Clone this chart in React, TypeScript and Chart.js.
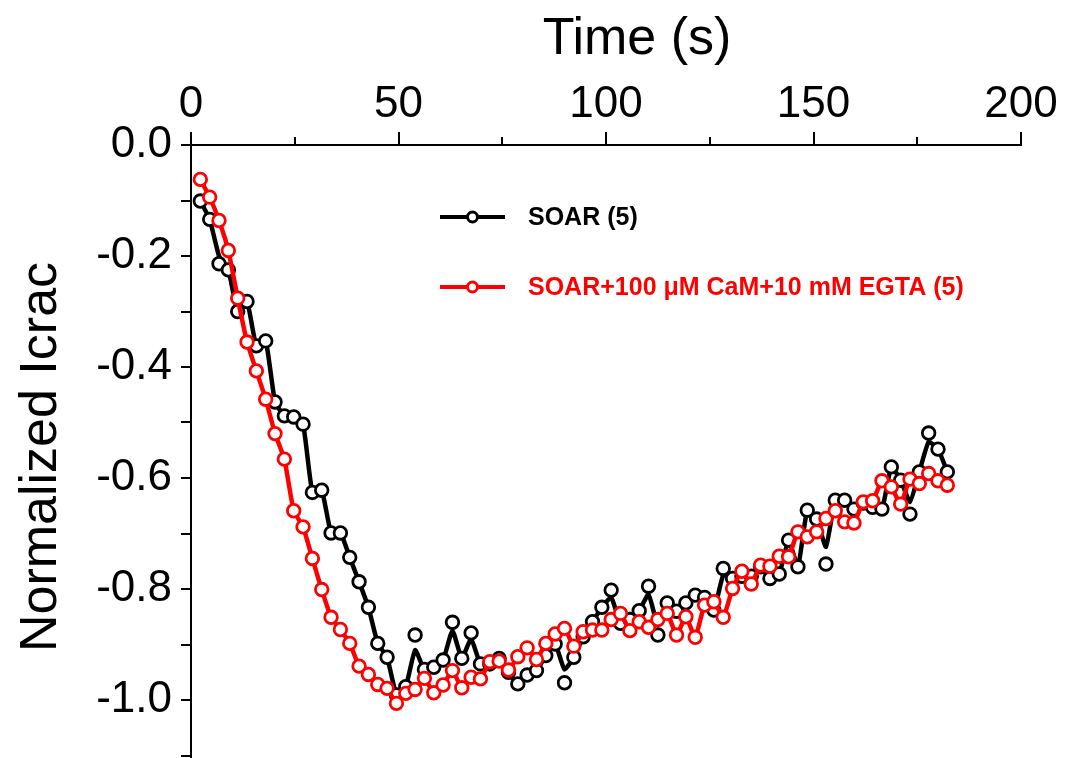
import React, { useEffect, useRef } from "react";
import { Chart, registerables } from "chart.js";

Chart.register(...registerables);

// Time (s) of each sample
const times = [
  2.25, 4.5, 6.75, 9, 11.25, 13.5, 15.75, 18, 20.25, 22.5,
  24.75, 27, 29.25, 31.5, 33.75, 36, 38.25, 40.5, 42.75, 45,
  47.25, 49.5, 51.75, 54, 56.25, 58.5, 60.75, 63, 65.25, 67.5,
  69.75, 72, 74.25, 76.5, 78.75, 81, 83.25, 85.5, 87.75, 90,
  92.25, 94.5, 96.75, 99, 101.25, 103.5, 105.75, 108, 110.25, 112.5,
  114.75, 117, 119.25, 121.5, 123.75, 126, 128.25, 130.5, 132.75, 135,
  137.25, 139.5, 141.75, 144, 146.25, 148.5, 150.75, 153, 155.25, 157.5,
  159.75, 162, 164.25, 166.5, 168.75, 171, 173.25, 175.5, 177.75, 180,
  182.25,
];

// SOAR (5): measured points
const soarPoints = [
  -0.101, -0.134, -0.214, -0.225, -0.300, -0.282, -0.362, -0.353, -0.463, -0.488,
  -0.490, -0.503, -0.626, -0.622, -0.699, -0.699, -0.743, -0.787, -0.833, -0.898,
  -0.923, -0.991, -0.976, -0.883, -0.945, -0.941, -0.928, -0.860, -0.925, -0.879,
  -0.935, -0.935, -0.925, -0.950, -0.971, -0.955, -0.947, -0.920, -0.899, -0.969,
  -0.923, -0.886, -0.859, -0.833, -0.802, -0.862, -0.855, -0.839, -0.795, -0.883,
  -0.825, -0.840, -0.825, -0.811, -0.815, -0.838, -0.763, -0.781, -0.777, -0.777,
  -0.760, -0.781, -0.773, -0.712, -0.760, -0.658, -0.674, -0.755, -0.640, -0.640,
  -0.656, -0.645, -0.653, -0.656, -0.580, -0.604, -0.665, -0.589, -0.519, -0.548,
  -0.589,
];

// SOAR (5): smoothed trace drawn through the points
const soarLine = [
  -0.101, -0.134, -0.200, -0.225, -0.300, -0.282, -0.362, -0.353, -0.463, -0.488,
  -0.490, -0.503, -0.626, -0.622, -0.699, -0.699, -0.743, -0.787, -0.833, -0.898,
  -0.923, -0.990, -0.976, -0.910, -0.945, -0.941, -0.928, -0.875, -0.925, -0.890,
  -0.935, -0.935, -0.925, -0.950, -0.971, -0.955, -0.947, -0.920, -0.899, -0.945,
  -0.923, -0.886, -0.859, -0.833, -0.815, -0.862, -0.855, -0.839, -0.810, -0.865,
  -0.825, -0.840, -0.825, -0.811, -0.815, -0.838, -0.775, -0.781, -0.777, -0.777,
  -0.760, -0.781, -0.773, -0.712, -0.760, -0.658, -0.674, -0.724, -0.640, -0.640,
  -0.656, -0.645, -0.653, -0.656, -0.580, -0.604, -0.643, -0.589, -0.535, -0.548,
  -0.589,
];

// SOAR+100 uM CaM+10 mM EGTA (5)
const camPoints = [
  -0.062, -0.094, -0.136, -0.190, -0.276, -0.355, -0.407, -0.458, -0.520, -0.566,
  -0.659, -0.688, -0.745, -0.801, -0.851, -0.873, -0.898, -0.939, -0.954, -0.972,
  -0.979, -1.006, -0.988, -0.981, -0.961, -0.987, -0.973, -0.947, -0.978, -0.959,
  -0.962, -0.931, -0.930, -0.946, -0.922, -0.906, -0.927, -0.898, -0.881, -0.871,
  -0.903, -0.877, -0.874, -0.874, -0.855, -0.844, -0.875, -0.859, -0.869, -0.855,
  -0.844, -0.883, -0.850, -0.887, -0.829, -0.823, -0.851, -0.799, -0.768, -0.791,
  -0.757, -0.759, -0.741, -0.742, -0.697, -0.706, -0.697, -0.673, -0.659, -0.679,
  -0.681, -0.643, -0.641, -0.605, -0.616, -0.647, -0.602, -0.610, -0.592, -0.605,
  -0.613,
];

const seriesLabels = ["SOAR (5)", "SOAR+100 \u03BCM CaM+10 mM EGTA (5)"];
const seriesColors = ["#000000", "#ff0000"];
const xTitle = "Time (s)";
const yTitle = "Normalized Icrac";
const xMajorTicks = [0, 50, 100, 150, 200];
const xMinorTicks = [25, 75, 125, 175];
const yTicks = [0, -0.1, -0.2, -0.3, -0.4, -0.5, -0.6, -0.7, -0.8, -0.9, -1.0, -1.1];

const FONT = '"Liberation Sans", Arial, Helvetica, sans-serif';

export default function App() {
  const canvasRef = useRef<HTMLCanvasElement>(null);

  useEffect(() => {
    if (!canvasRef.current) return;
    const toXY = (vals: number[]) => times.map((t, i) => ({ x: t, y: vals[i] }));

    const decor = {
      id: "decor",
      afterLayout(chart: any) {
        const ys = chart.scales.y;
        const b = chart.height - 2.5;
        ys.bottom = b;
        ys.height = b - ys.top;
        ys.configure();
        chart.chartArea.bottom = b;
        chart.chartArea.height = b - chart.chartArea.top;
      },
      afterDraw(chart: any) {
        const ctx = chart.ctx as CanvasRenderingContext2D;
        const { left, right, top } = chart.chartArea;
        const xs = chart.scales.x;
        const ys = chart.scales.y;
        ctx.save();
        ctx.strokeStyle = "#000";
        ctx.lineWidth = 2;
        ctx.beginPath();
        ctx.moveTo(left, top);
        ctx.lineTo(right + 1, top);
        ctx.moveTo(left, top - 1);
        ctx.lineTo(left, chart.height);
        for (const v of xMajorTicks) {
          const px = Math.round(xs.getPixelForValue(v));
          ctx.moveTo(px, top);
          ctx.lineTo(px, top - 13);
        }
        for (const v of xMinorTicks) {
          const px = Math.round(xs.getPixelForValue(v));
          ctx.moveTo(px, top);
          ctx.lineTo(px, top - 8);
        }
        for (const v of yTicks) {
          const py = Math.round(ys.getPixelForValue(v));
          ctx.moveTo(left, py);
          ctx.lineTo(left - 10, py);
        }
        ctx.stroke();

        // titles
        ctx.fillStyle = "#000";
        ctx.font = `52px ${FONT}`;
        ctx.textAlign = "center";
        ctx.textBaseline = "alphabetic";
        ctx.fillText(xTitle, 637, 54);
        ctx.save();
        ctx.translate(56, 457);
        ctx.rotate(-Math.PI / 2);
        ctx.fillText(yTitle, 0, 0);
        ctx.restore();

        // legend
        const legendY = [217, 287];
        seriesLabels.forEach((lab, i) => {
          const y = legendY[i];
          ctx.strokeStyle = seriesColors[i];
          ctx.lineWidth = 4;
          ctx.beginPath();
          ctx.moveTo(440, y);
          ctx.lineTo(505, y);
          ctx.stroke();
          ctx.beginPath();
          ctx.arc(472.5, y, 5, 0, Math.PI * 2);
          ctx.fillStyle = "#fff";
          ctx.fill();
          ctx.lineWidth = 3;
          ctx.stroke();
          ctx.fillStyle = seriesColors[i];
          ctx.font = `bold 25px ${FONT}`;
          ctx.textAlign = "left";
          ctx.textBaseline = "middle";
          ctx.fillText(lab, 528, y + 1);
        });
        ctx.restore();
      },
    };

    const chart = new Chart(canvasRef.current, {
      type: "line",
      data: {
        datasets: [
          {
            label: seriesLabels[1],
            data: toXY(camPoints),
            borderColor: seriesColors[1],
            borderWidth: 4.5,
            pointRadius: 6.3,
            pointBorderWidth: 2.8,
            pointBackgroundColor: "#ffffff",
            pointBorderColor: seriesColors[1],
            tension: 0.15,
            order: 1,
          },
          {
            label: seriesLabels[0] + " points",
            data: toXY(soarPoints),
            showLine: false,
            borderColor: seriesColors[0],
            pointRadius: 6.3,
            pointBorderWidth: 2.8,
            pointBackgroundColor: "#ffffff",
            pointBorderColor: seriesColors[0],
            order: 2,
          },
          {
            label: seriesLabels[0],
            data: toXY(soarLine),
            borderColor: seriesColors[0],
            borderWidth: 4.5,
            pointRadius: 0,
            tension: 0.15,
            order: 3,
          },
        ],
      },
      options: {
        responsive: false,
        animation: false,
        events: [],
        layout: { padding: { left: 0, right: 52, top: 0, bottom: 2 } },
        plugins: { legend: { display: false }, tooltip: { enabled: false } },
        scales: {
          x: {
            type: "linear",
            position: "top",
            min: 0,
            max: 200,
            grid: { display: false, drawTicks: false },
            border: { display: false },
            afterFit: (s: any) => {
              s.height = 145;
              s.paddingLeft = 0;
              s.paddingRight = 0;
            },
            ticks: {
              stepSize: 25,
              autoSkip: false,
              maxRotation: 0,
              padding: 14,
              color: "#000",
              font: { family: FONT, size: 44 },
              callback: (v: any) => (Number(v) % 50 === 0 ? String(v) : ""),
            },
          },
          y: {
            type: "linear",
            min: -1.1,
            max: 0,
            grid: { display: false, drawTicks: false },
            border: { display: false },
            afterFit: (s: any) => {
              s.width = 191;
              s.paddingTop = 0;
              s.paddingBottom = 0;
            },
            ticks: {
              stepSize: 0.1,
              autoSkip: false,
              padding: 19,
              color: "#000",
              font: { family: FONT, size: 44 },
              callback: (v: any) => {
                const n = Math.round(Number(v) * 10);
                return n % 2 === 0 ? (n / 10).toFixed(1) : "";
              },
            },
          },
        },
      },
      plugins: [decor],
    });
    return () => chart.destroy();
  }, []);

  return (
    <div style={{ position: "absolute", left: 0, top: 0, width: 1073, height: 758, background: "#fff" }}>
      <canvas ref={canvasRef} width={1073} height={758} style={{ display: "block" }} />
    </div>
  );
}
